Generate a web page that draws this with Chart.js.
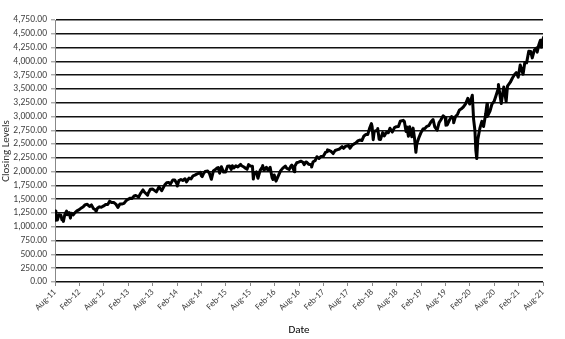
<!DOCTYPE html>
<html>
<head>
<meta charset="utf-8">
<script src="https://cdn.jsdelivr.net/npm/chart.js@4/dist/chart.umd.min.js"></script>
<style>
html,body{margin:0;padding:0;background:#fff;}
#wrap{width:565px;height:339px;position:relative;}
</style>
</head>
<body>
<div id="wrap"><canvas id="c" width="565" height="339"></canvas></div>
<script>
const dates = [
"2011-08-01","2011-08-08","2011-08-15","2011-08-19","2011-08-31","2011-09-15","2011-09-22","2011-09-30","2011-10-03","2011-10-14","2011-10-27","2011-11-01","2011-11-15","2011-11-25","2011-11-30","2011-12-15","2011-12-30",
"2012-01-13","2012-01-31","2012-02-15","2012-02-29","2012-03-15","2012-03-30","2012-04-16","2012-04-30","2012-05-15","2012-05-31","2012-06-04","2012-06-15","2012-06-29","2012-07-13","2012-07-31","2012-08-15","2012-08-31","2012-09-14","2012-09-28","2012-10-15","2012-10-31","2012-11-15","2012-11-30","2012-12-14","2012-12-31",
"2013-01-15","2013-01-31","2013-02-15","2013-02-28","2013-03-15","2013-03-28","2013-04-18","2013-04-30","2013-05-21","2013-05-31","2013-06-24","2013-06-28","2013-07-15","2013-07-31","2013-08-15","2013-08-30","2013-09-18","2013-09-30","2013-10-08","2013-10-31","2013-11-15","2013-11-29","2013-12-13","2013-12-31",
"2014-01-15","2014-01-31","2014-02-03","2014-02-14","2014-02-28","2014-03-14","2014-03-31","2014-04-11","2014-04-30","2014-05-15","2014-05-30","2014-06-13","2014-06-30","2014-07-15","2014-07-24","2014-07-31","2014-08-07","2014-08-15","2014-08-29","2014-09-18","2014-09-30","2014-10-15","2014-10-31","2014-11-14","2014-11-28","2014-12-05","2014-12-16","2014-12-29",
"2015-01-15","2015-01-30","2015-02-13","2015-02-27","2015-03-11","2015-03-20","2015-03-31","2015-04-15","2015-04-30","2015-05-21","2015-05-29","2015-06-15","2015-06-29","2015-07-08","2015-07-20","2015-07-31","2015-08-18","2015-08-25","2015-08-31","2015-09-16","2015-09-28","2015-10-15","2015-10-30","2015-11-03","2015-11-13","2015-11-30","2015-12-14","2015-12-29",
"2016-01-13","2016-01-20","2016-01-29","2016-02-11","2016-02-29","2016-03-15","2016-03-31","2016-04-20","2016-04-29","2016-05-19","2016-05-31","2016-06-08","2016-06-27","2016-06-30","2016-07-15","2016-07-29","2016-08-15","2016-08-31","2016-09-09","2016-09-22","2016-09-30","2016-10-14","2016-10-31","2016-11-04","2016-11-15","2016-11-30","2016-12-13","2016-12-30",
"2017-01-13","2017-01-31","2017-02-15","2017-02-28","2017-03-01","2017-03-15","2017-03-31","2017-04-13","2017-04-28","2017-05-16","2017-05-31","2017-06-19","2017-06-30","2017-07-14","2017-07-31","2017-08-08","2017-08-18","2017-08-31","2017-09-15","2017-09-29","2017-10-16","2017-10-31","2017-11-15","2017-11-30","2017-12-15","2017-12-29",
"2018-01-12","2018-01-26","2018-01-31","2018-02-08","2018-02-15","2018-02-27","2018-03-08","2018-03-12","2018-03-23","2018-04-02","2018-04-18","2018-04-30","2018-05-15","2018-05-31","2018-06-12","2018-06-29","2018-07-16","2018-07-31","2018-08-15","2018-08-29","2018-09-20","2018-09-28","2018-10-11","2018-10-17","2018-10-29","2018-11-07","2018-11-23","2018-11-30","2018-12-03","2018-12-14","2018-12-24","2018-12-31",
"2019-01-15","2019-01-31","2019-02-15","2019-02-28","2019-03-15","2019-03-29","2019-04-15","2019-04-30","2019-05-13","2019-05-31","2019-06-14","2019-06-28","2019-07-15","2019-07-31","2019-08-05","2019-08-15","2019-08-30","2019-09-16","2019-09-30","2019-10-02","2019-10-15","2019-10-31","2019-11-15","2019-11-29","2019-12-13","2019-12-31",
"2020-01-17","2020-01-31","2020-02-19","2020-02-28","2020-03-09","2020-03-16","2020-03-23","2020-03-31","2020-04-15","2020-04-30","2020-05-13","2020-05-29","2020-06-08","2020-06-11","2020-06-30","2020-07-15","2020-07-31","2020-08-14","2020-08-31","2020-09-02","2020-09-23","2020-09-30","2020-10-12","2020-10-30","2020-11-09","2020-11-30","2020-12-15","2020-12-31",
"2021-01-14","2021-01-29","2021-02-12","2021-02-26","2021-03-04","2021-03-17","2021-03-31","2021-04-16","2021-04-30","2021-05-12","2021-05-28","2021-06-15","2021-06-18","2021-06-30","2021-07-12","2021-07-19","2021-07-30","2021-08-06"
];
const closingLevels = [
1287,1119,1204,1124,1219,1209,1129,1131,1099,1224,1285,1218,1257,1158,1247,1216,1258,
1289,1312,1343,1366,1402,1408,1369,1398,1330,1310,1278,1342,1362,1356,1379,1405,1406,1465,1441,1440,1412,1353,1416,1413,1426,
1472,1498,1520,1515,1560,1569,1541,1597,1669,1631,1573,1606,1682,1686,1661,1633,1726,1682,1655,1757,1798,1806,1775,1848,
1848,1782,1741,1838,1859,1841,1872,1815,1884,1870,1924,1937,1960,1973,1988,1931,1910,1955,2003,2011,1972,1862,2018,2040,2068,2075,1972,2091,
1993,1995,2097,2105,2040,2108,2068,2106,2086,2131,2107,2085,2058,2046,2129,2104,2097,1867,1972,1996,1881,2023,2079,2110,2023,2080,2021,2078,
1890,1859,1940,1829,1932,2015,2060,2102,2065,2040,2097,2119,2000,2099,2162,2174,2190,2171,2128,2177,2168,2133,2126,2085,2180,2199,2271,2239,
2275,2279,2349,2364,2396,2385,2363,2329,2384,2400,2412,2453,2423,2459,2470,2474,2425,2472,2500,2519,2557,2575,2564,2648,2675,2674,
2786,2873,2824,2581,2732,2744,2738,2783,2588,2582,2708,2648,2711,2705,2787,2718,2798,2816,2819,2914,2931,2914,2728,2809,2641,2814,2633,2760,2790,2600,2351,2507,
2610,2704,2775,2784,2822,2834,2905,2946,2812,2752,2887,2942,3014,2980,2844,2848,2926,2998,2977,2887,2996,3038,3120,3141,3169,3231,
3330,3226,3386,2954,2747,2386,2237,2585,2783,2912,2820,3044,3232,3002,3100,3227,3271,3373,3500,3580,3237,3363,3534,3270,3550,3622,3694,3756,
3796,3714,3934,3811,3768,3974,3973,4185,4181,4063,4204,4246,4166,4298,4384,4258,4395,4437
];
const tickLabels = ["Aug-11","Feb-12","Aug-12","Feb-13","Aug-13","Feb-14","Aug-14","Feb-15","Aug-15","Feb-16","Aug-16","Feb-17","Aug-17","Feb-18","Aug-18","Feb-19","Aug-19","Feb-20","Aug-20","Feb-21","Aug-21"];

function monthsSinceStart(s){
  const [y,m,d] = s.split("-").map(Number);
  const dim = new Date(y, m, 0).getDate();
  return (y-2011)*12 + (m-8) + (d-1)/dim;
}
const points = dates.map((d,i)=>({x: monthsSinceStart(d), y: closingLevels[i]}));

const FONT = 'Calibri, Carlito, "Liberation Sans", Arial, sans-serif';

new Chart(document.getElementById('c'), {
  type: 'line',
  data: { datasets: [{
    data: points,
    borderColor: '#000',
    borderWidth: 3,
    borderJoinStyle: 'round',
    borderCapStyle: 'round',
    pointRadius: 0,
    tension: 0,
    fill: false
  }]},
  options: {
    responsive: false,
    animation: false,
    layout: { padding: { top: 20, right: 22, left: 0, bottom: 0 } },
    plugins: { legend: { display: false }, tooltip: { enabled: false } },
    scales: {
      x: {
        type: 'linear',
        min: 0, max: 120,
        afterBuildTicks: (s) => { s.ticks = tickLabels.map((l,i)=>({value: i*6})); },
        afterFit: (s) => { s.height = 57; },
        ticks: {
          autoSkip: false, maxRotation: 45, minRotation: 45,
          font: { family: FONT, size: 9 }, color: '#404040', padding: 1,
          callback: (v) => tickLabels[Math.round(v/6)]
        },
        grid: { drawOnChartArea: false, drawTicks: true, tickLength: 4, color: '#888' },
        border: { color: '#888', width: 1 },
        title: { display: true, text: 'Date', font: { family: FONT, size: 11 }, color: '#000', padding: { top: 0, bottom: 2 } }
      },
      y: {
        min: 0, max: 4750,
        afterBuildTicks: (s) => { const t=[]; for(let v=0; v<=4750; v+=250) t.push({value:v}); s.ticks=t; },
        afterFit: (s) => { s.width = 55; },
        ticks: {
          autoSkip: false,
          font: { family: FONT, size: 9.5 }, color: '#404040', padding: 4,
          callback: (v) => v.toLocaleString('en-US', {minimumFractionDigits:2, maximumFractionDigits:2})
        },
        grid: { color: '#111', lineWidth: 1.6, tickLength: 4, tickColor: '#888', tickWidth: 1 },
        border: { color: '#888', width: 1 },
        title: { display: true, text: 'Closing Levels', font: { family: FONT, size: 11 }, color: '#333', padding: { top: 0, bottom: 0 } }
      }
    }
  }
});
</script>
</body>
</html>
